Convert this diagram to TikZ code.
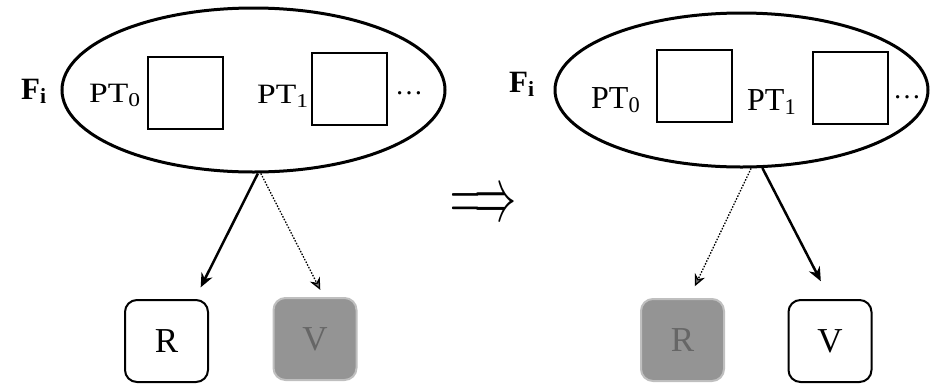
\RequirePackage{fix-cm}
\documentclass[tikz,border=0pt]{standalone}
\usepackage{graphicx}
\usepackage{fontspec}
\setmainfont{Liberation Serif}
\usetikzlibrary{arrows.meta,shapes.geometric}

\begin{document}
\begin{tikzpicture}[
  x=1pt, y=-1pt,
  setnode/.style={draw, ellipse, line width=3pt, inner sep=0pt},
  ptbox/.style={draw, rectangle, line width=2pt, minimum width=75pt, minimum height=72pt, inner sep=0pt},
  varbox/.style={draw, rectangle, rounded corners=12pt, line width=2pt, minimum width=83pt, minimum height=82pt, inner sep=0pt, font=\fontsize{35}{38}\selectfont},
  shadedbox/.style={varbox, fill=black!42, draw=black!25, text=black!60},
  lbl/.style={anchor=base west, inner sep=0pt, font=\fontsize{28}{30}\selectfont},
  biglbl/.style={lbl, font=\fontsize{32}{34}\selectfont},
  setlbl/.style={lbl, font=\fontsize{31}{33}\selectfont},
  strong/.style={-{Stealth[length=14pt,width=12pt,fill=black!65]}, line width=2.5pt},
  weak/.style={-{Stealth[length=12pt,width=11pt,fill=black!55]}, line width=1.3pt, dash pattern=on 1.5pt off 1.5pt}
]
\useasboundingbox (0,0) rectangle (935,384);

% Left configuration
\node[setnode, minimum width=383pt, minimum height=164pt] (fl) at (253.5,90) {};
\node[setlbl] (fil) at (21,99) {\textbf{F}\textsubscript{\textbf{i}}};
\node[lbl] (tl0) at (89,102) {\scalebox{1.2}[1]{PT\textsubscript{0}}};
\node[ptbox] (pl0) at (185,92.5) {};
\node[lbl] (tl1) at (257,103) {\scalebox{1.2}[1]{PT\textsubscript{1}}};
\node[ptbox] (pl1) at (349.5,88.5) {};
\node[lbl] (dl) at (395,94) {\dots};

\node[varbox] (rl) at (166.5,341) {R};
\node[shadedbox] (vl) at (315,339) {V};

\draw[strong, shorten >=13pt] (fl.-87) -- (rl.56);
\draw[weak, shorten >=8pt] (fl.-85) -- (vl.78);

% Transition
\node (imp) at (483.5,206.5) {\fontsize{42}{42}\selectfont\scalebox{1}[1.8]{$\Longrightarrow$}};

% Right configuration
\node[setnode, minimum width=373pt, minimum height=154pt] (fr) at (741.5,90) {};
\node[setlbl] (fir) at (509,92) {\textbf{F}\textsubscript{\textbf{i}}};
\node[biglbl] (tr0) at (591,108) {PT\textsubscript{0}};
\node[ptbox] (pr0) at (694.5,86) {};
\node[biglbl] (tr1) at (747,110) {PT\textsubscript{1}};
\node[ptbox] (pr1) at (850.5,88) {};
\node[lbl] (dr) at (893,98) {\dots};

\node[shadedbox] (rr) at (682.5,340) {R};
\node[varbox] (vr) at (830,341) {V};

\draw[weak, shorten >=13pt] (fr.-83) -- (rr.81);
\draw[strong, shorten >=20pt] (fr.-75) -- (vr.north);
\end{tikzpicture}
\end{document}
